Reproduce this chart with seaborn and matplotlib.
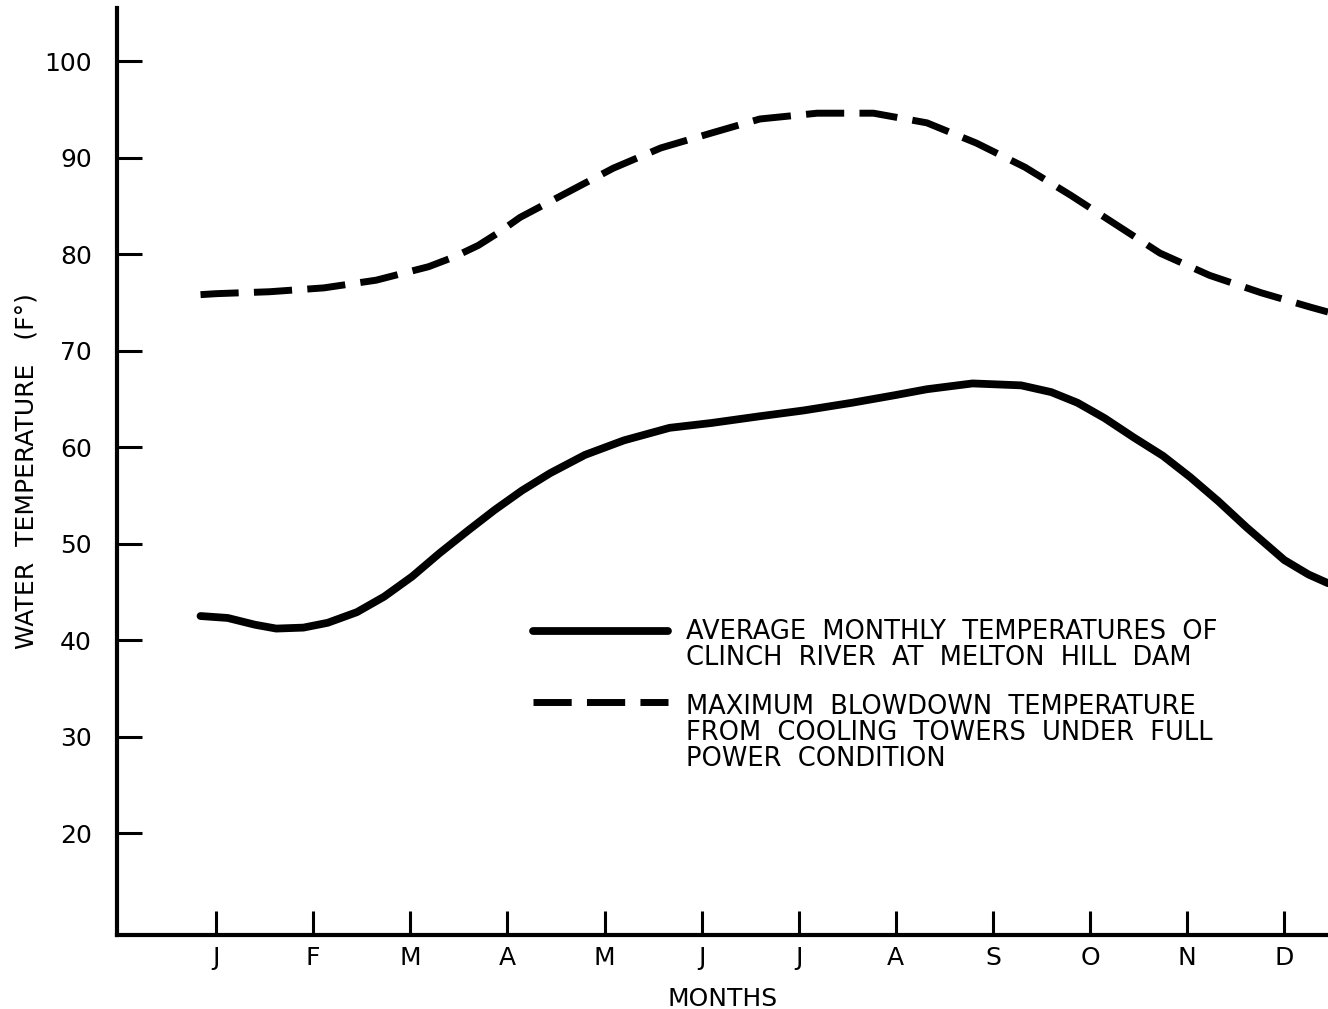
import matplotlib
matplotlib.use("Agg")
import matplotlib.pyplot as plt
from matplotlib.legend_handler import HandlerLine2D
import seaborn as sns
import pandas as pd

# ---- data ----
month_labels = ["J", "F", "M", "A", "M", "J", "J", "A", "S", "O", "N", "D"]
month_pos = list(range(12))
y_ticks = [20, 30, 40, 50, 60, 70, 80, 90, 100]

# average monthly temperature (solid), x in months from January
avg_x = [-0.16, 0.12, 0.40, 0.62, 0.90, 1.15, 1.45, 1.73, 2.02, 2.30, 2.60,
         2.87, 3.15, 3.44, 3.80, 4.20, 4.67, 5.10, 5.60, 6.05, 6.55, 7.00,
         7.32, 7.79, 8.29, 8.60, 8.87, 9.15, 9.45, 9.75, 10.03, 10.32, 10.61,
         11.00, 11.25, 11.45]
avg_y = [42.5, 42.3, 41.6, 41.2, 41.3, 41.8, 42.9, 44.5, 46.6, 49.0, 51.4,
         53.5, 55.5, 57.3, 59.2, 60.7, 62.0, 62.5, 63.2, 63.8, 64.6, 65.4,
         66.0, 66.6, 66.4, 65.7, 64.6, 63.0, 61.0, 59.1, 56.9, 54.4, 51.7,
         48.3, 46.8, 45.9]

# maximum blowdown temperature (dashed)
blow_x = [-0.16, 0.0, 0.55, 1.11, 1.65, 2.19, 2.45, 2.70, 2.92, 3.13, 3.60,
          4.09, 4.58, 5.12, 5.60, 6.19, 6.77, 7.32, 7.83, 8.33, 8.80, 9.26,
          9.72, 10.23, 10.76, 11.27, 11.45]
blow_y = [75.8, 75.9, 76.1, 76.5, 77.3, 78.7, 79.7, 80.9, 82.3, 83.8, 86.3,
          88.9, 91.0, 92.6, 94.0, 94.6, 94.6, 93.6, 91.5, 89.0, 86.1, 83.1,
          80.1, 77.8, 76.0, 74.5, 74.0]

legend_labels = [
    "AVERAGE  MONTHLY  TEMPERATURES  OF\nCLINCH  RIVER  AT  MELTON  HILL  DAM",
    "MAXIMUM  BLOWDOWN  TEMPERATURE\nFROM  COOLING  TOWERS  UNDER  FULL\nPOWER  CONDITION",
]

sns.set_theme(style="white")
plt.rcParams["font.family"] = ["DejaVu Sans"]
plt.rcParams["text.color"] = "black"


class FirstLineHandler(HandlerLine2D):
    """Legend handler that lifts the sample line to the first text line."""

    def __init__(self, dy, **kw):
        super().__init__(**kw)
        self.dy = dy

    def create_artists(self, legend, orig_handle, xdescent, ydescent,
                       width, height, fontsize, trans):
        arts = super().create_artists(legend, orig_handle, xdescent, ydescent,
                                      width, height, fontsize, trans)
        for a in arts:
            if hasattr(a, "set_ydata"):
                a.set_ydata(a.get_ydata() + self.dy)
        return arts


fig = plt.figure(figsize=(13.28, 10.09), dpi=100)
ax = fig.add_axes([117 / 1328, 74 / 1009, 1211 / 1328, 927 / 1009])

df_avg = pd.DataFrame({"month": avg_x, "temp": avg_y})
df_blow = pd.DataFrame({"month": blow_x, "temp": blow_y})

sns.lineplot(data=df_avg, x="month", y="temp", ax=ax, color="black",
             linewidth=5.6, estimator=None, sort=False,
             solid_capstyle="round", solid_joinstyle="round")
sns.lineplot(data=df_blow, x="month", y="temp", ax=ax, color="black",
             linewidth=5.0, estimator=None, sort=False,
             linestyle=(0, (5.5, 2.2)), dash_capstyle="butt")

ax.set_xlim(-1.02, 11.45)
ax.set_ylim(9.45, 105.5)
ax.set_xticks(month_pos)
ax.set_xticklabels(month_labels)
ax.set_yticks(y_ticks)
ax.set_yticklabels([str(v) for v in y_ticks])

for s in ["top", "right"]:
    ax.spines[s].set_visible(False)
for s in ["left", "bottom"]:
    ax.spines[s].set_linewidth(3)
    ax.spines[s].set_color("black")

ax.tick_params(axis="y", direction="in", length=18, width=2.2, pad=18,
               labelsize=18, colors="black", left=True)
ax.tick_params(axis="x", direction="in", length=17, width=2.2, pad=8,
               labelsize=18, colors="black", bottom=True)

ax.set_ylabel("WATER  TEMPERATURE   (F°)", fontsize=18, labelpad=4, color="black")
ax.set_xlabel("MONTHS", fontsize=18, labelpad=12, color="black")

h1, h2 = ax.get_lines()[:2]
leg = ax.legend([h1, h2], legend_labels, loc="upper left",
                bbox_to_anchor=(0.3435, 0.341), frameon=False, fontsize=18.5,
                handlelength=5.25, handletextpad=0.7, labelspacing=0.9,
                borderpad=0, borderaxespad=0,
                handler_map={h1: FirstLineHandler(11), h2: FirstLineHandler(23)})
for t in leg.get_texts():
    t.set_linespacing(1.0)
    t.set_color("black")

ax.grid(False)
fig.savefig("out.png", dpi=100, facecolor="white")
